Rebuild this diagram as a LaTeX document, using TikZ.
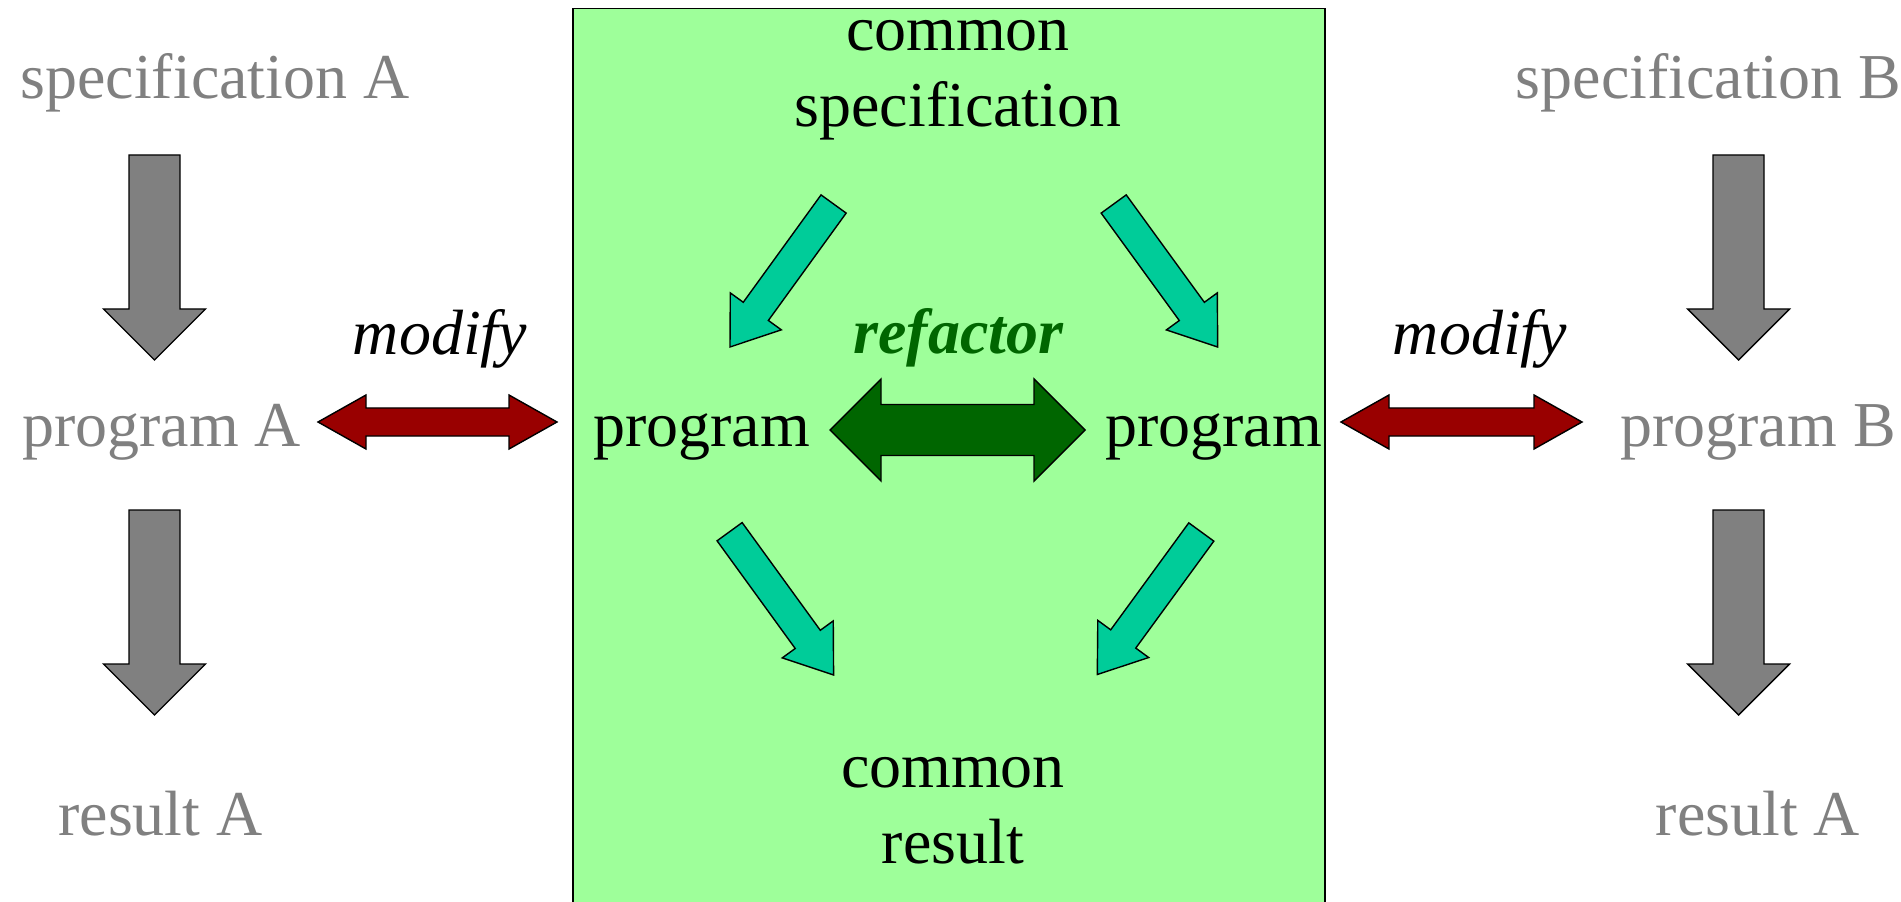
\documentclass[tikz,border=0pt]{standalone}
\usepackage{fontspec}
\setmainfont{Liberation Serif}
\usetikzlibrary{calc}

\definecolor{boxgreen}{HTML}{9EFF9A}
\definecolor{teal arrow}{HTML}{00CC99}
\definecolor{modify red}{HTML}{990000}
\definecolor{refactor green}{HTML}{006600}

% block arrow: style, tail, tip, shaft half width, head half width, head length
\newcommand{\blockarrow}[6]{%
  \coordinate (hb) at ($(#3)!#6!(#2)$);
  \draw[#1] ($(#2)!#4!90:(#3)$) -- ($(hb)!#4!90:(#3)$) -- ($(hb)!#5!90:(#3)$)
    -- (#3) -- ($(hb)!#5!-90:(#3)$) -- ($(hb)!#4!-90:(#3)$)
    -- ($(#2)!#4!-90:(#3)$) -- cycle;
}
% same with a head at both ends
\newcommand{\dblarrow}[6]{%
  \coordinate (ha) at ($(#2)!#6!(#3)$);
  \coordinate (hb) at ($(#3)!#6!(#2)$);
  \draw[#1] (#2) -- ($(ha)!#5!90:(#3)$) -- ($(ha)!#4!90:(#3)$)
    -- ($(hb)!#4!-90:(#2)$) -- ($(hb)!#5!-90:(#2)$) -- (#3)
    -- ($(hb)!#5!90:(#2)$) -- ($(hb)!#4!90:(#2)$)
    -- ($(ha)!#4!-90:(#3)$) -- ($(ha)!#5!-90:(#3)$) -- cycle;
}

\begin{document}
\begin{tikzpicture}[x=0.2mm, y=-0.2mm,
  every node/.style = {inner sep=0pt, font=\fontsize{36.4}{43.2}\selectfont},
  faded/.style = {text=gray},
  label text/.style = {font=\fontsize{36.4}{43.2}\selectfont\itshape},
  greyarrow/.style = {fill=gray, draw=black, line width=0.8pt},
  tealarrow/.style = {fill=teal arrow, draw=black, line width=0.8pt},
  redarrow/.style = {fill=modify red, draw=black, line width=0.8pt},
  greenarrow/.style = {fill=refactor green, draw=black, line width=0.8pt},
  ]
  \path[use as bounding box, clip] (0,0) rectangle (1901,902);

  % shared part
  \draw[fill=boxgreen, line width=1.1pt] (573,8.5) rectangle (1325,930);

  % left column
  \node[faded, anchor=base] (specA) at (215,99) {specification A};
  \node[faded, anchor=base] (progA) at (161.5,446) {program A};
  \node[faded, anchor=base] (resA) at (160.5,835) {result A};
  \coordinate (a1t) at (154.5,155);  \coordinate (a1h) at (154.5,360);
  \coordinate (a2t) at (154.5,510);  \coordinate (a2h) at (154.5,715);
  \blockarrow{greyarrow}{a1t}{a1h}{0.51cm}{1.02cm}{1.02cm}
  \blockarrow{greyarrow}{a2t}{a2h}{0.51cm}{1.02cm}{1.02cm}

  % right column
  \node[faded, anchor=base] (specB) at (1708.5,99) {specification B};
  \node[faded, anchor=base] (progB) at (1758,446) {program B};
  \node[faded, anchor=base] (resB) at (1758,835) {result A};
  \coordinate (b1t) at (1738.5,155);  \coordinate (b1h) at (1738.5,360);
  \coordinate (b2t) at (1738.5,510);  \coordinate (b2h) at (1738.5,715);
  \blockarrow{greyarrow}{b1t}{b1h}{0.51cm}{1.02cm}{1.02cm}
  \blockarrow{greyarrow}{b2t}{b2h}{0.51cm}{1.02cm}{1.02cm}

  % inside the box (base of a two-line node is its last line)
  \node[align=center, anchor=base] (cspec) at (958,126.7) {common\\specification};
  \node[anchor=base] (progL) at (701.5,446) {program};
  \node[anchor=base] (progR) at (1213.5,446) {program};
  \node[align=center, anchor=base] (cres) at (953,863) {common\\result};
  \node[label text, text=refactor green, font=\fontsize{36.4}{43.2}\selectfont\bfseries\itshape,
        anchor=base] (refactor) at (958.5,354) {refactor};

  \coordinate (t1t) at (833.6,204);   \coordinate (t1h) at (730,347);
  \coordinate (t2t) at (1113.7,204);  \coordinate (t2h) at (1217.7,347);
  \coordinate (t3t) at (729.6,531.7); \coordinate (t3h) at (833.6,675);
  \coordinate (t4t) at (1201.3,532);  \coordinate (t4h) at (1097.3,674.5);
  \blockarrow{tealarrow}{t1t}{t1h}{0.31cm}{0.63cm}{0.88cm}
  \blockarrow{tealarrow}{t2t}{t2h}{0.31cm}{0.63cm}{0.88cm}
  \blockarrow{tealarrow}{t3t}{t3h}{0.31cm}{0.63cm}{0.88cm}
  \blockarrow{tealarrow}{t4t}{t4h}{0.31cm}{0.63cm}{0.88cm}

  \coordinate (r1) at (830,430);  \coordinate (r2) at (1085,430);
  \dblarrow{greenarrow}{r1}{r2}{0.51cm}{1.02cm}{1.02cm}

  % modify links
  \node[label text, anchor=base] (modA) at (440,355) {modify};
  \node[label text, anchor=base] (modB) at (1480,355) {modify};
  \coordinate (m1) at (318,422);   \coordinate (m2) at (557,422);
  \coordinate (m3) at (1341,422);  \coordinate (m4) at (1582,422);
  \dblarrow{redarrow}{m1}{m2}{0.28cm}{0.54cm}{0.96cm}
  \dblarrow{redarrow}{m3}{m4}{0.28cm}{0.54cm}{0.96cm}
\end{tikzpicture}
\end{document}
